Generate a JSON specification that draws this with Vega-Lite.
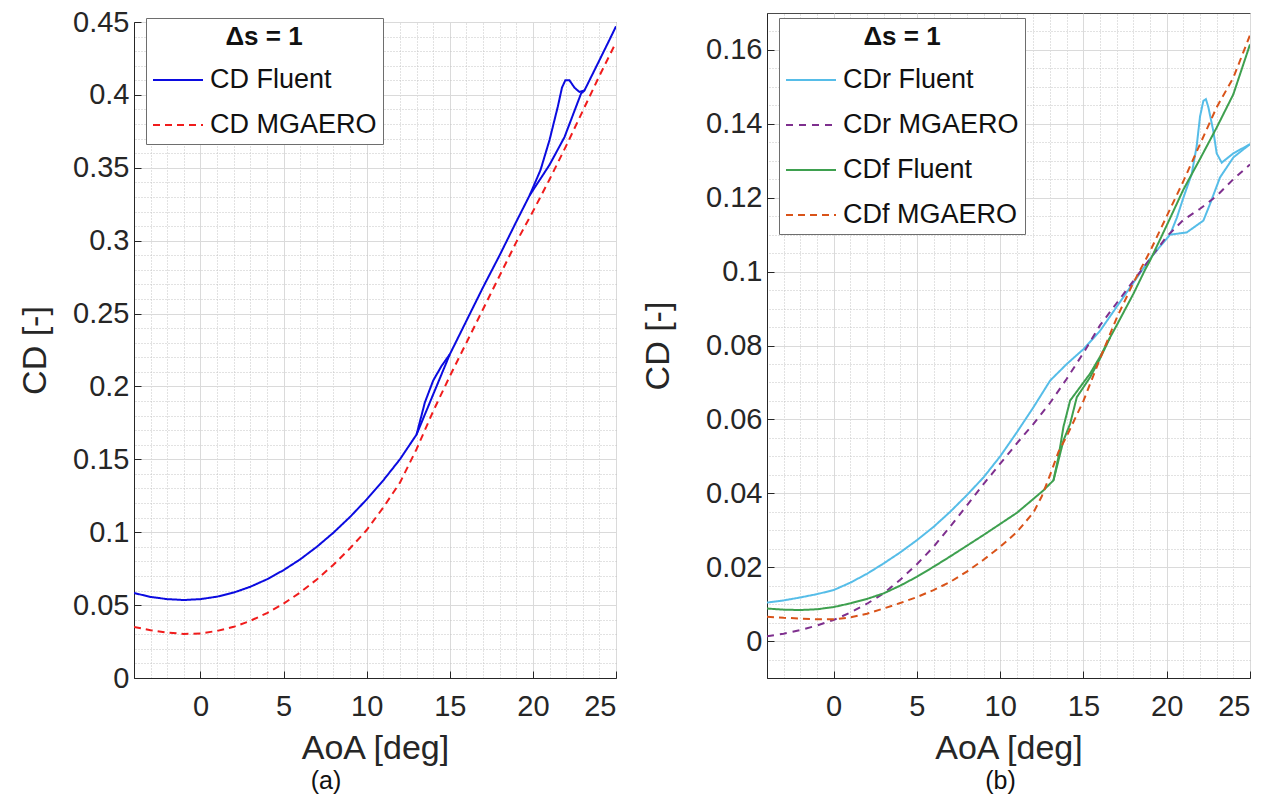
{
  "$schema": "https://vega.github.io/schema/vega-lite/v6.json",
  "padding": {"left": 18, "top": 6, "right": 10, "bottom": 4},
  "spacing": 21,
  "resolve": {"scale": {"color": "independent", "strokeDash": "independent"}, "legend": {"color": "independent", "strokeDash": "independent"}},
  "datasets": {
    "a": [
      {"s":"CD Fluent","g":"m","x":-4,"y":0.0583},{"s":"CD Fluent","g":"m","x":-3,"y":0.0556},{"s":"CD Fluent","g":"m","x":-2,"y":0.0541},{"s":"CD Fluent","g":"m","x":-1,"y":0.0535},{"s":"CD Fluent","g":"m","x":0,"y":0.0541},{"s":"CD Fluent","g":"m","x":1,"y":0.0558},{"s":"CD Fluent","g":"m","x":2,"y":0.0586},{"s":"CD Fluent","g":"m","x":3,"y":0.0626},{"s":"CD Fluent","g":"m","x":4,"y":0.0677},{"s":"CD Fluent","g":"m","x":5,"y":0.074},{"s":"CD Fluent","g":"m","x":6,"y":0.0814},{"s":"CD Fluent","g":"m","x":7,"y":0.09},{"s":"CD Fluent","g":"m","x":8,"y":0.0997},{"s":"CD Fluent","g":"m","x":9,"y":0.1105},{"s":"CD Fluent","g":"m","x":10,"y":0.1225},{"s":"CD Fluent","g":"m","x":11,"y":0.1356},{"s":"CD Fluent","g":"m","x":12,"y":0.15},{"s":"CD Fluent","g":"m","x":13,"y":0.167},{"s":"CD Fluent","g":"m","x":14,"y":0.1945},{"s":"CD Fluent","g":"m","x":15,"y":0.222},{"s":"CD Fluent","g":"m","x":16,"y":0.245},{"s":"CD Fluent","g":"m","x":17,"y":0.268},{"s":"CD Fluent","g":"m","x":18,"y":0.29},{"s":"CD Fluent","g":"m","x":19,"y":0.313},{"s":"CD Fluent","g":"m","x":19.8,"y":0.331},{"s":"CD Fluent","g":"m","x":21,"y":0.352},{"s":"CD Fluent","g":"m","x":21.9,"y":0.371},{"s":"CD Fluent","g":"m","x":22.9,"y":0.401},{"s":"CD Fluent","g":"m","x":23.1,"y":0.403},{"s":"CD Fluent","g":"m","x":24,"y":0.4237},{"s":"CD Fluent","g":"m","x":24.6,"y":0.4376},{"s":"CD Fluent","g":"m","x":25,"y":0.447},
      {"s":"CD Fluent","g":"k","x":13,"y":0.167},{"s":"CD Fluent","g":"k","x":13.5,"y":0.189},{"s":"CD Fluent","g":"k","x":14,"y":0.204},{"s":"CD Fluent","g":"k","x":14.5,"y":0.214},{"s":"CD Fluent","g":"k","x":15,"y":0.222},
      {"s":"CD Fluent","g":"p","x":19.8,"y":0.331},{"s":"CD Fluent","g":"p","x":20.46,"y":0.3485},{"s":"CD Fluent","g":"p","x":21,"y":0.369},{"s":"CD Fluent","g":"p","x":21.5,"y":0.392},{"s":"CD Fluent","g":"p","x":21.75,"y":0.405},{"s":"CD Fluent","g":"p","x":21.95,"y":0.41},{"s":"CD Fluent","g":"p","x":22.2,"y":0.41},{"s":"CD Fluent","g":"p","x":22.5,"y":0.405},{"s":"CD Fluent","g":"p","x":22.8,"y":0.402},{"s":"CD Fluent","g":"p","x":23.1,"y":0.403},
      {"s":"CD MGAERO","g":"m","x":-4,"y":0.035},{"s":"CD MGAERO","g":"m","x":-3,"y":0.0328},{"s":"CD MGAERO","g":"m","x":-2,"y":0.0312},{"s":"CD MGAERO","g":"m","x":-1,"y":0.0302},{"s":"CD MGAERO","g":"m","x":0,"y":0.0306},{"s":"CD MGAERO","g":"m","x":1,"y":0.0323},{"s":"CD MGAERO","g":"m","x":2,"y":0.0351},{"s":"CD MGAERO","g":"m","x":3,"y":0.0392},{"s":"CD MGAERO","g":"m","x":4,"y":0.0445},{"s":"CD MGAERO","g":"m","x":5,"y":0.051},{"s":"CD MGAERO","g":"m","x":6,"y":0.0587},{"s":"CD MGAERO","g":"m","x":7,"y":0.0676},{"s":"CD MGAERO","g":"m","x":8,"y":0.0777},{"s":"CD MGAERO","g":"m","x":9,"y":0.089},{"s":"CD MGAERO","g":"m","x":10,"y":0.1015},{"s":"CD MGAERO","g":"m","x":11,"y":0.117},{"s":"CD MGAERO","g":"m","x":12,"y":0.134},{"s":"CD MGAERO","g":"m","x":13,"y":0.157},{"s":"CD MGAERO","g":"m","x":14,"y":0.183},{"s":"CD MGAERO","g":"m","x":15,"y":0.207},{"s":"CD MGAERO","g":"m","x":16,"y":0.23},{"s":"CD MGAERO","g":"m","x":17,"y":0.253},{"s":"CD MGAERO","g":"m","x":18,"y":0.276},{"s":"CD MGAERO","g":"m","x":19,"y":0.299},{"s":"CD MGAERO","g":"m","x":20,"y":0.32},{"s":"CD MGAERO","g":"m","x":21,"y":0.342},{"s":"CD MGAERO","g":"m","x":22,"y":0.365},{"s":"CD MGAERO","g":"m","x":23,"y":0.389},{"s":"CD MGAERO","g":"m","x":24,"y":0.413},{"s":"CD MGAERO","g":"m","x":25,"y":0.436}
    ],
    "b": [
      {"s":"CDr Fluent","g":"m","x":-4,"y":0.0104},{"s":"CDr Fluent","g":"m","x":-3,"y":0.011},{"s":"CDr Fluent","g":"m","x":-2,"y":0.0118},{"s":"CDr Fluent","g":"m","x":-1,"y":0.0127},{"s":"CDr Fluent","g":"m","x":0,"y":0.0138},{"s":"CDr Fluent","g":"m","x":1,"y":0.0158},{"s":"CDr Fluent","g":"m","x":2,"y":0.0182},{"s":"CDr Fluent","g":"m","x":3,"y":0.021},{"s":"CDr Fluent","g":"m","x":4,"y":0.024},{"s":"CDr Fluent","g":"m","x":5,"y":0.0273},{"s":"CDr Fluent","g":"m","x":6,"y":0.0309},{"s":"CDr Fluent","g":"m","x":7,"y":0.035},{"s":"CDr Fluent","g":"m","x":8,"y":0.0395},{"s":"CDr Fluent","g":"m","x":9,"y":0.0443},{"s":"CDr Fluent","g":"m","x":10,"y":0.05},{"s":"CDr Fluent","g":"m","x":11,"y":0.0565},{"s":"CDr Fluent","g":"m","x":12,"y":0.0633},{"s":"CDr Fluent","g":"m","x":13,"y":0.0705},{"s":"CDr Fluent","g":"m","x":14,"y":0.075},{"s":"CDr Fluent","g":"m","x":15,"y":0.079},{"s":"CDr Fluent","g":"m","x":16,"y":0.084},{"s":"CDr Fluent","g":"m","x":17,"y":0.0905},{"s":"CDr Fluent","g":"m","x":18,"y":0.097},{"s":"CDr Fluent","g":"m","x":19,"y":0.1035},{"s":"CDr Fluent","g":"m","x":19.6,"y":0.1068},{"s":"CDr Fluent","g":"m","x":20.2,"y":0.11},{"s":"CDr Fluent","g":"m","x":21.2,"y":0.1106},{"s":"CDr Fluent","g":"m","x":22.2,"y":0.1138},{"s":"CDr Fluent","g":"m","x":22.6,"y":0.1183},{"s":"CDr Fluent","g":"m","x":23.2,"y":0.1255},{"s":"CDr Fluent","g":"m","x":24,"y":0.1309},{"s":"CDr Fluent","g":"m","x":25,"y":0.1345},
      {"s":"CDr Fluent","g":"p","x":20.2,"y":0.11},{"s":"CDr Fluent","g":"p","x":20.6,"y":0.1145},{"s":"CDr Fluent","g":"p","x":21,"y":0.12},{"s":"CDr Fluent","g":"p","x":21.5,"y":0.1264},{"s":"CDr Fluent","g":"p","x":21.8,"y":0.134},{"s":"CDr Fluent","g":"p","x":22,"y":0.142},{"s":"CDr Fluent","g":"p","x":22.2,"y":0.1462},{"s":"CDr Fluent","g":"p","x":22.35,"y":0.1467},{"s":"CDr Fluent","g":"p","x":22.5,"y":0.1445},{"s":"CDr Fluent","g":"p","x":22.8,"y":0.138},{"s":"CDr Fluent","g":"p","x":23,"y":0.132},{"s":"CDr Fluent","g":"p","x":23.3,"y":0.1295},{"s":"CDr Fluent","g":"p","x":24,"y":0.132},{"s":"CDr Fluent","g":"p","x":25,"y":0.1345},
      {"s":"CDr MGAERO","g":"m","x":-4,"y":0.0013},{"s":"CDr MGAERO","g":"m","x":-3,"y":0.002},{"s":"CDr MGAERO","g":"m","x":-2,"y":0.003},{"s":"CDr MGAERO","g":"m","x":-1,"y":0.0042},{"s":"CDr MGAERO","g":"m","x":0,"y":0.0057},{"s":"CDr MGAERO","g":"m","x":1,"y":0.0077},{"s":"CDr MGAERO","g":"m","x":2,"y":0.0101},{"s":"CDr MGAERO","g":"m","x":3,"y":0.0129},{"s":"CDr MGAERO","g":"m","x":4,"y":0.0166},{"s":"CDr MGAERO","g":"m","x":5,"y":0.0208},{"s":"CDr MGAERO","g":"m","x":6,"y":0.0255},{"s":"CDr MGAERO","g":"m","x":7,"y":0.031},{"s":"CDr MGAERO","g":"m","x":8,"y":0.0367},{"s":"CDr MGAERO","g":"m","x":9,"y":0.0425},{"s":"CDr MGAERO","g":"m","x":10,"y":0.048},{"s":"CDr MGAERO","g":"m","x":11,"y":0.0535},{"s":"CDr MGAERO","g":"m","x":12,"y":0.0588},{"s":"CDr MGAERO","g":"m","x":13,"y":0.0645},{"s":"CDr MGAERO","g":"m","x":14,"y":0.071},{"s":"CDr MGAERO","g":"m","x":15,"y":0.078},{"s":"CDr MGAERO","g":"m","x":16,"y":0.0855},{"s":"CDr MGAERO","g":"m","x":17,"y":0.0915},{"s":"CDr MGAERO","g":"m","x":18,"y":0.0975},{"s":"CDr MGAERO","g":"m","x":19,"y":0.1035},{"s":"CDr MGAERO","g":"m","x":20,"y":0.1095},{"s":"CDr MGAERO","g":"m","x":21,"y":0.114},{"s":"CDr MGAERO","g":"m","x":22,"y":0.117},{"s":"CDr MGAERO","g":"m","x":23,"y":0.1205},{"s":"CDr MGAERO","g":"m","x":24,"y":0.125},{"s":"CDr MGAERO","g":"m","x":25,"y":0.129},
      {"s":"CDf Fluent","g":"m","x":-4,"y":0.0088},{"s":"CDf Fluent","g":"m","x":-3,"y":0.0085},{"s":"CDf Fluent","g":"m","x":-2,"y":0.0084},{"s":"CDf Fluent","g":"m","x":-1,"y":0.0086},{"s":"CDf Fluent","g":"m","x":0,"y":0.0092},{"s":"CDf Fluent","g":"m","x":1,"y":0.0102},{"s":"CDf Fluent","g":"m","x":2,"y":0.0114},{"s":"CDf Fluent","g":"m","x":3,"y":0.0129},{"s":"CDf Fluent","g":"m","x":4,"y":0.015},{"s":"CDf Fluent","g":"m","x":5,"y":0.0174},{"s":"CDf Fluent","g":"m","x":6,"y":0.0201},{"s":"CDf Fluent","g":"m","x":7,"y":0.0229},{"s":"CDf Fluent","g":"m","x":8,"y":0.0258},{"s":"CDf Fluent","g":"m","x":9,"y":0.0287},{"s":"CDf Fluent","g":"m","x":10,"y":0.0317},{"s":"CDf Fluent","g":"m","x":11,"y":0.0347},{"s":"CDf Fluent","g":"m","x":12,"y":0.0385},{"s":"CDf Fluent","g":"m","x":12.6,"y":0.0408},{"s":"CDf Fluent","g":"m","x":13.2,"y":0.0435},{"s":"CDf Fluent","g":"m","x":13.8,"y":0.0543},{"s":"CDf Fluent","g":"m","x":14.2,"y":0.0588},{"s":"CDf Fluent","g":"m","x":14.6,"y":0.066},{"s":"CDf Fluent","g":"m","x":15.4,"y":0.0714},{"s":"CDf Fluent","g":"m","x":16,"y":0.0765},{"s":"CDf Fluent","g":"m","x":16.6,"y":0.0822},{"s":"CDf Fluent","g":"m","x":17,"y":0.0855},{"s":"CDf Fluent","g":"m","x":18,"y":0.094},{"s":"CDf Fluent","g":"m","x":18.7,"y":0.1005},{"s":"CDf Fluent","g":"m","x":19,"y":0.103},{"s":"CDf Fluent","g":"m","x":20,"y":0.1125},{"s":"CDf Fluent","g":"m","x":21,"y":0.1222},{"s":"CDf Fluent","g":"m","x":22,"y":0.1305},{"s":"CDf Fluent","g":"m","x":23,"y":0.139},{"s":"CDf Fluent","g":"m","x":24,"y":0.148},{"s":"CDf Fluent","g":"m","x":25,"y":0.1615},
      {"s":"CDf Fluent","g":"k","x":13.2,"y":0.0435},{"s":"CDf Fluent","g":"k","x":13.5,"y":0.0498},{"s":"CDf Fluent","g":"k","x":13.8,"y":0.058},{"s":"CDf Fluent","g":"k","x":14.2,"y":0.0651},{"s":"CDf Fluent","g":"k","x":15.4,"y":0.0724},{"s":"CDf Fluent","g":"k","x":16,"y":0.077},{"s":"CDf Fluent","g":"k","x":16.6,"y":0.0822},
      {"s":"CDf MGAERO","g":"m","x":-4,"y":0.0066},{"s":"CDf MGAERO","g":"m","x":-3,"y":0.0063},{"s":"CDf MGAERO","g":"m","x":-2,"y":0.0061},{"s":"CDf MGAERO","g":"m","x":-1,"y":0.0059},{"s":"CDf MGAERO","g":"m","x":0,"y":0.0059},{"s":"CDf MGAERO","g":"m","x":1,"y":0.0064},{"s":"CDf MGAERO","g":"m","x":2,"y":0.0074},{"s":"CDf MGAERO","g":"m","x":3,"y":0.0088},{"s":"CDf MGAERO","g":"m","x":4,"y":0.0103},{"s":"CDf MGAERO","g":"m","x":5,"y":0.0119},{"s":"CDf MGAERO","g":"m","x":6,"y":0.0138},{"s":"CDf MGAERO","g":"m","x":7,"y":0.016},{"s":"CDf MGAERO","g":"m","x":8,"y":0.0188},{"s":"CDf MGAERO","g":"m","x":9,"y":0.022},{"s":"CDf MGAERO","g":"m","x":10,"y":0.0255},{"s":"CDf MGAERO","g":"m","x":11,"y":0.0295},{"s":"CDf MGAERO","g":"m","x":12,"y":0.0348},{"s":"CDf MGAERO","g":"m","x":12.5,"y":0.0392},{"s":"CDf MGAERO","g":"m","x":13,"y":0.045},{"s":"CDf MGAERO","g":"m","x":13.5,"y":0.0512},{"s":"CDf MGAERO","g":"m","x":14,"y":0.0555},{"s":"CDf MGAERO","g":"m","x":15,"y":0.065},{"s":"CDf MGAERO","g":"m","x":16,"y":0.0765},{"s":"CDf MGAERO","g":"m","x":17,"y":0.0875},{"s":"CDf MGAERO","g":"m","x":18,"y":0.097},{"s":"CDf MGAERO","g":"m","x":19,"y":0.1055},{"s":"CDf MGAERO","g":"m","x":20,"y":0.115},{"s":"CDf MGAERO","g":"m","x":21,"y":0.1245},{"s":"CDf MGAERO","g":"m","x":22,"y":0.1345},{"s":"CDf MGAERO","g":"m","x":23,"y":0.1445},{"s":"CDf MGAERO","g":"m","x":24,"y":0.1525},{"s":"CDf MGAERO","g":"m","x":25,"y":0.164}
    ]
  },
  "hconcat": [
    {
      "spacing": 0,
      "vconcat": [
        {
          "width": 1, "height": 1,
          "view": {"stroke": null},
          "data": {"name": "a"},
          "mark": {"type": "point", "opacity": 0, "size": 0}
        },
        {
          "width": 482,
          "height": 656,
          "data": {"name": "a"},
          "title": {"text": "(a)", "orient": "bottom", "anchor": "middle", "dx": -49, "fontSize": 25, "fontWeight": "normal", "offset": 4, "color": "#111111"},
          "layer": [
            {
              "mark": {"type": "point", "opacity": 0},
              "encoding": {
                "x": {"field": "x", "type": "quantitative", "scale": {"domain": [-4, 25], "nice": false, "zero": false},
                  "axis": {"orient": "top", "values": [-3,-2,-1,1,2,3,4,6,7,8,9,11,12,13,14,16,17,18,19,21,22,23,24], "grid": true, "gridDash": [1, 2], "gridColor": "#c4c4c4", "labels": false, "ticks": false, "domain": false, "title": null, "labelPadding": 0, "minExtent": 0, "maxExtent": 0}},
                "y": {"field": "y", "type": "quantitative", "scale": {"domain": [0, 0.45], "nice": false, "zero": false},
                  "axis": {"orient": "right", "values": [0.01,0.02,0.03,0.04,0.06,0.07,0.08,0.09,0.11,0.12,0.13,0.14,0.16,0.17,0.18,0.19,0.21,0.22,0.23,0.24,0.26,0.27,0.28,0.29,0.31,0.32,0.33,0.34,0.36,0.37,0.38,0.39,0.41,0.42,0.43,0.44], "grid": true, "gridDash": [1, 2], "gridColor": "#c4c4c4", "labels": false, "ticks": false, "domain": false, "title": null, "labelPadding": 0, "minExtent": 0, "maxExtent": 0}}
              }
            },
            {
              "mark": {"type": "line", "strokeWidth": 2, "clip": true},
              "encoding": {
                "x": {"field": "x", "type": "quantitative", "scale": {"domain": [-4, 25], "nice": false, "zero": false},
                  "axis": {"orient": "bottom", "values": [0, 5, 10, 15, 20, 25], "grid": true, "title": "AoA [deg]"}},
                "y": {"field": "y", "type": "quantitative", "scale": {"domain": [0, 0.45], "nice": false, "zero": false},
                  "axis": {"orient": "left", "values": [0,0.05,0.1,0.15,0.2,0.25,0.3,0.35,0.4,0.45], "format": ".2~f", "grid": true, "title": "CD [-]", "titlePadding": 20}},
                "color": {"field": "s", "type": "nominal", "title": "Δs = 1", "scale": {"domain": ["CD Fluent", "CD MGAERO"], "range": ["#0b0be0", "#f01c1c"]}},
                "strokeDash": {"field": "s", "type": "nominal", "title": "Δs = 1", "scale": {"domain": ["CD Fluent", "CD MGAERO"], "range": [[1, 0], [7, 5]]}},
                "detail": {"field": "g"}
              }
            }
          ],
          "resolve": {"axis": {"x": "independent", "y": "independent"}}
        }
      ]
    },
    {
      "spacing": 5,
      "vconcat": [
        {
          "width": 1, "height": 1,
          "view": {"stroke": null},
          "data": {"name": "b"},
          "mark": {"type": "point", "opacity": 0, "size": 0}
        },
        {
          "width": 483,
          "height": 665,
          "data": {"name": "b"},
          "title": {"text": "(b)", "orient": "bottom", "anchor": "middle", "dx": -8, "fontSize": 25, "fontWeight": "normal", "offset": 4, "color": "#111111"},
          "layer": [
            {
              "mark": {"type": "point", "opacity": 0},
              "encoding": {
                "x": {"field": "x", "type": "quantitative", "scale": {"domain": [-4, 25], "nice": false, "zero": false},
                  "axis": {"orient": "top", "values": [-3,-2,-1,1,2,3,4,6,7,8,9,11,12,13,14,16,17,18,19,21,22,23,24], "grid": true, "gridDash": [1, 2], "gridColor": "#c4c4c4", "labels": false, "ticks": false, "domain": false, "title": null, "labelPadding": 0, "minExtent": 0, "maxExtent": 0}},
                "y": {"field": "y", "type": "quantitative", "scale": {"domain": [-0.01, 0.17], "nice": false, "zero": false},
                  "axis": {"orient": "right", "values": [-0.005,0.005,0.01,0.015,0.025,0.03,0.035,0.045,0.05,0.055,0.065,0.07,0.075,0.085,0.09,0.095,0.105,0.11,0.115,0.125,0.13,0.135,0.145,0.15,0.155,0.165], "grid": true, "gridDash": [1, 2], "gridColor": "#c4c4c4", "labels": false, "ticks": false, "domain": false, "title": null, "labelPadding": 0, "minExtent": 0, "maxExtent": 0}}
              }
            },
            {
              "mark": {"type": "line", "strokeWidth": 2, "clip": true},
              "encoding": {
                "x": {"field": "x", "type": "quantitative", "scale": {"domain": [-4, 25], "nice": false, "zero": false},
                  "axis": {"orient": "bottom", "values": [0, 5, 10, 15, 20, 25], "grid": true, "title": "AoA [deg]"}},
                "y": {"field": "y", "type": "quantitative", "scale": {"domain": [-0.01, 0.17], "nice": false, "zero": false},
                  "axis": {"orient": "left", "values": [0,0.02,0.04,0.06,0.08,0.1,0.12,0.14,0.16], "format": ".2~f", "grid": true, "title": "CD [-]", "titlePadding": 30}},
                "color": {"field": "s", "type": "nominal", "title": "Δs = 1", "scale": {"domain": ["CDr Fluent", "CDr MGAERO", "CDf Fluent", "CDf MGAERO"], "range": ["#56bde8", "#7e2f8e", "#3ea04f", "#d95319"]}},
                "strokeDash": {"field": "s", "type": "nominal", "title": "Δs = 1", "scale": {"domain": ["CDr Fluent", "CDr MGAERO", "CDf Fluent", "CDf MGAERO"], "range": [[1, 0], [7, 6], [1, 0], [7, 5]]}},
                "detail": {"field": "g"}
              }
            }
          ],
          "resolve": {"axis": {"x": "independent", "y": "independent"}}
        }
      ]
    }
  ],
  "config": {
    "font": "Liberation Sans",
    "view": {"stroke": "#4a4a4a", "strokeWidth": 1},
    "axis": {
      "labelFontSize": 29, "titleFontSize": 34, "titleFontWeight": "normal",
      "labelColor": "#262626", "titleColor": "#262626", "domainColor": "#262626", "tickColor": "#262626",
      "gridColor": "#dadada", "gridWidth": 1, "tickSize": -7, "labelPadding": 12, "titlePadding": 10
    },
    "axisBottom": {"labelPadding": 21, "titlePadding": 10},
    "axisLeft": {"labelPadding": 12, "titlePadding": 12},
    "legend": {
      "orient": "top-left", "offset": 12, "fillColor": "white", "strokeColor": "#6e6e6e",
      "padding": 6, "titleFontSize": 26, "titleFontWeight": "bold", "titleColor": "#111111",
      "titleAnchor": "middle", "titlePadding": 4, "labelFontSize": 27, "labelColor": "#111111", "labelLimit": 400,
      "symbolType": "stroke", "symbolSize": 2500, "symbolStrokeWidth": 2, "rowPadding": 6, "labelOffset": 6
    }
  }
}
